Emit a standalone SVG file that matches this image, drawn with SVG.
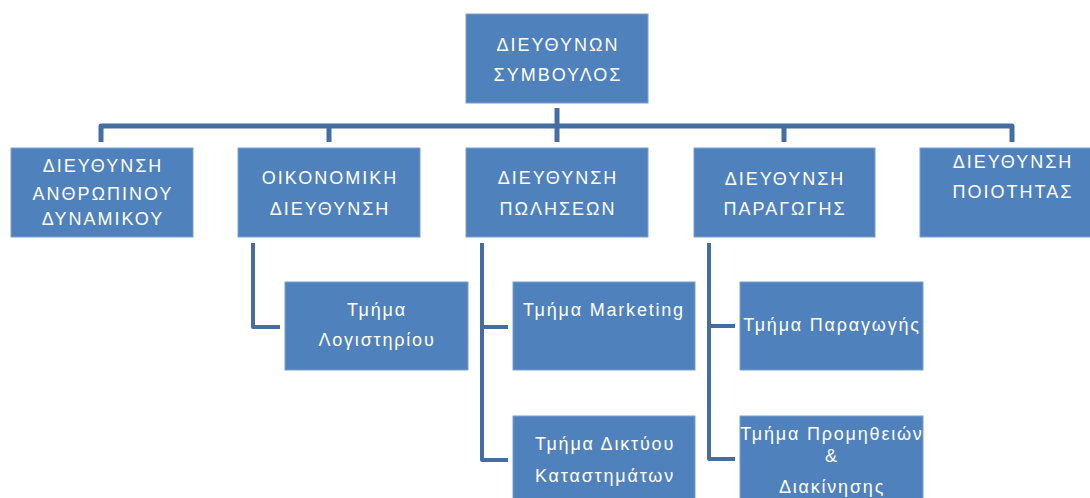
<svg xmlns="http://www.w3.org/2000/svg" width="1090" height="498" viewBox="0 0 1090 498">
<style>
.box{fill:#4F81BD;stroke:#7b9fcf;stroke-width:1}
.t{fill:#fff;font-family:"Liberation Sans",Arial,sans-serif;font-size:18px;letter-spacing:2px;text-anchor:middle}
.s{fill:#fff;font-family:"Liberation Sans",Arial,sans-serif;font-size:18px;letter-spacing:1.8px;text-anchor:middle}
.c{fill:none;stroke:#446ea3;stroke-linejoin:round;stroke-linecap:butt}
</style>
<rect width="1090" height="498" fill="#fff"/>
<g id="connectors">
<path class="c" stroke-width="5" d="M101,142 V126 H1012 V142"/>
<path class="c" stroke-width="5" d="M557,108 V142 M329,126 V142 M784,126 V142"/>
<path class="c" stroke-width="4" d="M253,243 V327 H280"/>
<path class="c" stroke-width="4" d="M482,243 V460 H508 M482,327 H508"/>
<path class="c" stroke-width="4" d="M709,243 V459 H735 M709,326 H735"/>
</g>
<g id="ceo"><rect class="box" x="466" y="14" width="182" height="89"/><text class="t" x="558" y="51">ΔΙΕΥΘΥΝΩΝ</text><text class="t" x="558" y="81">ΣΥΜΒΟΥΛΟΣ</text></g>
<g id="hr"><rect class="box" x="11" y="148" width="182" height="89"/><text class="t" x="103" y="172">ΔΙΕΥΘΥΝΣΗ</text><text class="t" x="103" y="200">ΑΝΘΡΩΠΙΝΟΥ</text><text class="t" x="103" y="225">ΔΥΝΑΜΙΚΟΥ</text></g>
<g id="finance"><rect class="box" x="238" y="148" width="182" height="89"/><text class="t" x="330" y="184">ΟΙΚΟΝΟΜΙΚΗ</text><text class="t" x="330" y="215">ΔΙΕΥΘΥΝΣΗ</text></g>
<g id="sales"><rect class="box" x="466" y="148" width="182" height="89"/><text class="t" x="558" y="184">ΔΙΕΥΘΥΝΣΗ</text><text class="t" x="558" y="215">ΠΩΛΗΣΕΩΝ</text></g>
<g id="production"><rect class="box" x="694" y="148" width="181" height="89"/><text class="t" x="785" y="185">ΔΙΕΥΘΥΝΣΗ</text><text class="t" x="785" y="215">ΠΑΡΑΓΩΓΗΣ</text></g>
<g id="quality"><rect class="box" x="920" y="148" width="172" height="89"/><text class="t" x="1013" y="168">ΔΙΕΥΘΥΝΣΗ</text><text class="t" x="1013" y="198">ΠΟΙΟΤΗΤΑΣ</text></g>
<g id="accounting"><rect class="box" x="285" y="282" width="183" height="88"/><text class="s" x="377" y="316">Τμήμα</text><text class="s" x="377" y="346">Λογιστηρίου</text></g>
<g id="marketing"><rect class="box" x="513" y="282" width="182" height="88"/><text class="s" x="604" y="316">Τμήμα Marketing</text></g>
<g id="stores"><rect class="box" x="513" y="416" width="182" height="86"/><text class="s" x="605" y="450">Τμήμα Δικτύου</text><text class="s" x="605" y="482">Καταστημάτων</text></g>
<g id="prod-dept"><rect class="box" x="740" y="282" width="183" height="88"/><text class="s" x="832" y="331">Τμήμα Παραγωγής</text></g>
<g id="supply"><rect class="box" x="740" y="416" width="183" height="86"/><text class="s" x="832" y="440">Τμήμα Προμηθειών</text><text class="s" x="832" y="462">&amp;</text><text class="s" x="832" y="493">Διακίνησης</text></g>
</svg>
